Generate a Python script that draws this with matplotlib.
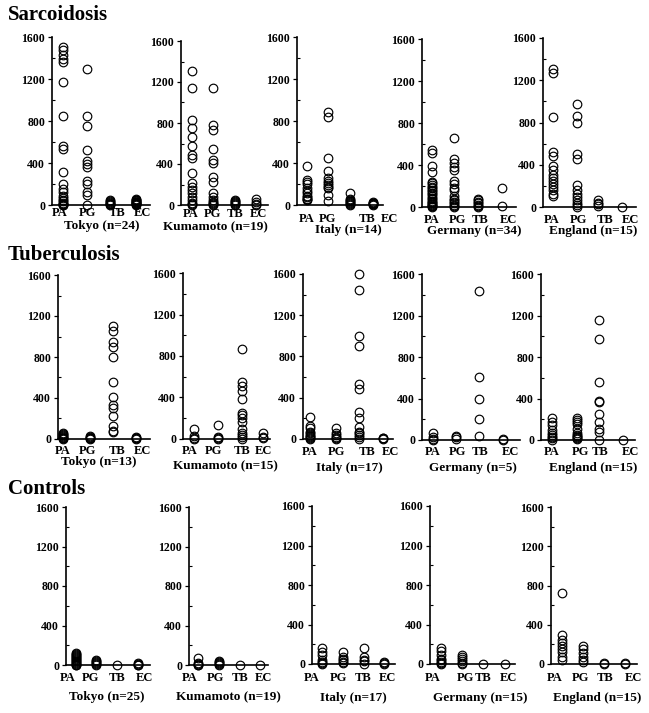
import matplotlib
matplotlib.use("Agg")
from matplotlib import pyplot as plt
from matplotlib.ticker import MultipleLocator

# antibody titres, one list per category: PA, PG, TB, EC
categories = ["PA", "PG", "TB", "EC"]
row_titles = ["Sarcoidosis", "Tuberculosis", "Controls"]

sarc_tokyo = [
    [1505, 1475, 1430, 1395, 1365, 1175, 850, 560, 530, 310, 200, 150, 120, 90, 70, 50, 35, 20, 10, 5, 0, 0],
    [1295, 850, 750, 520, 420, 390, 360, 230, 200, 120, 100, 0],
    [45, 35, 25, 15, 10, 5, 0],
    [60, 50, 45, 40, 30, 25, 20, 15, 10, 5, 0],
]
sarc_kumamoto = [
    [1310, 1140, 830, 750, 660, 580, 490, 455, 310, 210, 180, 145, 115, 80, 50, 20, 5, 0],
    [1140, 780, 730, 550, 440, 405, 275, 225, 120, 80, 50, 30, 15, 5, 0],
    [45, 35, 25, 15, 5, 0],
    [60, 25, 10, 0],
]
sarc_italy = [
    [375, 240, 220, 200, 160, 130, 110, 90, 80, 60, 55, 50],
    [885, 837, 452, 328, 254, 230, 213, 191, 175, 159, 95, 38],
    [110, 60, 45, 35, 25, 15, 5, 0],
    [30, 20, 15, 10, 5, 0],
]
sarc_germany = [
    [545, 515, 390, 335, 240, 225, 210, 195, 180, 165, 150, 135, 120, 105, 90, 75, 60, 50, 40, 30, 20, 10, 5, 0],
    [660, 455, 420, 380, 350, 245, 215, 180, 160, 105, 80, 65, 45, 35, 20, 10, 0],
    [80, 65, 50, 35, 20, 10, 0],
    [180, 5],
]
sarc_england = [
    [1310, 1265, 855, 525, 480, 385, 350, 300, 270, 250, 220, 190, 160, 125, 105],
    [975, 865, 795, 500, 455, 205, 160, 125, 95, 65, 40, 20, 0],
    [70, 40, 25, 10],
    [0],
]

tb_tokyo = [
    [60, 50, 40, 30, 20, 10, 5, 0],
    [25, 15, 10, 5, 0],
    [1100, 1055, 950, 895, 800, 555, 405, 330, 300, 220, 130, 80, 65],
    [20, 10, 5, 0],
]
tb_kumamoto = [
    [95, 25, 10, 0],
    [135, 20, 10, 0],
    [870, 550, 510, 460, 385, 255, 230, 200, 160, 100, 60, 40, 20, 0],
    [60, 20, 5],
]
tb_italy = [
    [210, 130, 105, 70, 55, 40, 30, 15, 5, 0],
    [105, 60, 40, 15, 5, 0],
    [1600, 1445, 1000, 900, 535, 485, 260, 200, 120, 70, 55, 40, 20, 0],
    [10, 5, 0],
]
tb_germany = [
    [65, 30, 10, 0],
    [40, 25, 10],
    [1440, 605, 400, 200, 40],
    [10, 0],
]
tb_england = [
    [210, 175, 145, 100, 65, 50, 30, 15, 0],
    [210, 190, 175, 150, 110, 65, 50, 40, 30, 20, 10],
    [1155, 970, 555, 380, 365, 255, 175, 110, 80, 0],
    [0],
]

ctrl_tokyo = [
    [120, 110, 100, 90, 80, 70, 60, 50, 40, 30, 20, 10, 5, 0],
    [50, 40, 30, 20, 10, 0],
    [0],
    [20, 10, 5, 0],
]
ctrl_kumamoto = [
    [70, 25, 15, 5, 0],
    [40, 30, 20, 10, 0],
    [0],
    [0],
]
ctrl_italy = [
    [160, 125, 95, 40, 25, 15, 5],
    [125, 75, 50, 40, 20, 10],
    [160, 75, 45, 30, 5],
    [20, 10, 0],
]
ctrl_germany = [
    [160, 130, 90, 50, 40, 25, 10, 5],
    [90, 75, 55, 35, 15, 5],
    [0],
    [0],
]
ctrl_england = [
    [725, 296, 245, 211, 183, 150, 126, 68, 41],
    [187, 150, 109, 68, 41, 17],
    [10, 0],
    [15, 5],
]

panel_names = [
    ["Tokyo (n=24)", "Kumamoto (n=19)", "Italy (n=14)", "Germany (n=34)", "England (n=15)"],
    ["Tokyo (n=13)", "Kumamoto (n=15)", "Italy (n=17)", "Germany (n=5)", "England (n=15)"],
    ["Tokyo (n=25)", "Kumamoto (n=19)", "Italy (n=17)", "Germany (n=15)", "England (n=15)"],
]
panel_data = [
    [sarc_tokyo, sarc_kumamoto, sarc_italy, sarc_germany, sarc_england],
    [tb_tokyo, tb_kumamoto, tb_italy, tb_germany, tb_england],
    [ctrl_tokyo, ctrl_kumamoto, ctrl_italy, ctrl_germany, ctrl_england],
]

# ---- layout, in pixels of the 649x713 picture ----
W, H = 649, 713
# (axis x, axis end x, y of 1600, y of 0)
boxes = [
    [(52, 150, 37, 205), (181, 268, 41, 205), (297, 383, 37, 205), (422, 516, 39, 207), (543, 636, 38, 207)],
    [(58, 150, 275, 439), (183, 270, 273, 439), (303, 393, 274, 439), (422, 520, 274, 440), (541, 635, 274, 440)],
    [(66, 150, 507, 665), (189, 268, 507, 665), (312, 395, 506, 664), (430, 515, 506, 664), (551, 637, 507, 664)],
]
marker_x = [
    [(63, 87, 110, 136), (192, 213, 235, 256), (307, 328, 350, 373), (432, 454, 478, 502), (553, 577, 598, 622)],
    [(63, 90, 113, 136), (194, 218, 242, 263), (310, 336, 359, 383), (433, 456, 479, 503), (552, 577, 599, 623)],
    [(76, 96, 117, 138), (198, 219, 240, 260), (322, 343, 364, 384), (441, 462, 483, 505), (562, 583, 604, 625)],
]
label_x = [
    [(60, 87, 117, 142), (191, 212, 235, 258), (307, 327, 367, 389), (432, 457, 480, 508), (552, 578, 605, 630)],
    [(63, 87, 117, 142), (190, 213, 242, 263), (310, 336, 367, 390), (433, 457, 480, 510), (552, 580, 600, 630)],
    [(68, 90, 117, 144), (190, 215, 240, 263), (312, 338, 363, 387), (433, 465, 483, 508), (555, 580, 605, 633)],
]
label_y = [[213, 214, 219, 220, 220], [451, 451, 452, 452, 452], [678, 678, 678, 678, 678]]
name_xy = [
    [(102, 226), (215, 227), (348, 230), (474, 231), (593, 231)],
    [(99, 462), (225, 466), (349, 468), (473, 468), (593, 468)],
    [(107, 697), (228, 697), (353, 698), (480, 698), (597, 698)],
]
title_y = [15, 255, 489]

serif = "Liberation Serif"
plt.rcParams["font.family"] = serif
plt.rcParams["font.weight"] = "bold"

fig = plt.figure(figsize=(W / 100, H / 100), dpi=100)
fig.patch.set_facecolor("white")

for r in range(3):
    fig.text(8 / W, 1 - title_y[r] / H, row_titles[r], fontsize=15, fontweight="bold",
             ha="left", va="center")
    for c in range(5):
        x0, x1, ytop, ybot = boxes[r][c]
        ax = fig.add_axes([x0 / W, 1 - ybot / H, (x1 - x0) / W, (ybot - ytop) / H])
        ax.set_xlim(x0, x1)
        ax.set_ylim(0, 1600)
        for spine in ["top", "right"]:
            ax.spines[spine].set_visible(False)
        for spine in ["left", "bottom"]:
            ax.spines[spine].set_linewidth(1.2)
        ax.set_xticks([])
        ax.yaxis.set_major_locator(MultipleLocator(400))
        ax.yaxis.set_minor_locator(MultipleLocator(200))
        ax.tick_params(axis="y", which="major", direction="out", length=3, width=0.9,
                       pad=2, labelsize=8.5)
        ax.tick_params(axis="y", which="minor", direction="in", length=2, width=0.8)
        for lab in ax.get_yticklabels():
            lab.set_fontweight("bold")
        ax.patch.set_alpha(0)

        for k, vals in enumerate(panel_data[r][c]):
            ax.plot([marker_x[r][c][k]] * len(vals), vals, "o", mfc="none", mec="black",
                    ms=6.2, mew=0.85, clip_on=False, zorder=3)

        for k, cat in enumerate(categories):
            fig.text(label_x[r][c][k] / W, 1 - label_y[r][c] / H, cat, fontsize=9,
                     fontweight="bold", ha="center", va="center")
        nx, ny = name_xy[r][c]
        fig.text(nx / W, 1 - ny / H, panel_names[r][c], fontsize=9.5, fontweight="bold",
                 ha="center", va="center")

fig.savefig("out.png", dpi=100)
